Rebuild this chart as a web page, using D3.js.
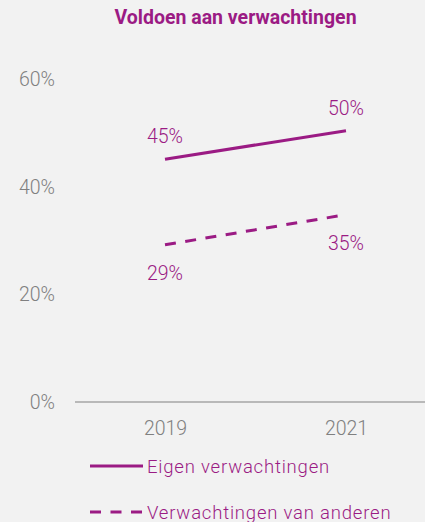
<!DOCTYPE html>
<html lang="nl">
<head>
<meta charset="utf-8">
<title>Voldoen aan verwachtingen</title>
<script src="https://cdn.jsdelivr.net/npm/d3@7"></script>
<style>
  body { margin: 0; background: #f2f2f2; }
  svg { display: block; font-family: Roboto, sans-serif; }
  .tick-label { fill: #808080; font-size: 19.5px; font-weight: 300; }
  .title { fill: #9b1b84; font-size: 19.5px; font-weight: bold; }
  .val { fill: #9b1b84; font-size: 19.5px; font-weight: 300; }
  .legend text { fill: #9b1b84; font-size: 18.5px; letter-spacing: 0.8px; font-weight: 300; }
</style>
</head>
<body>
<svg id="chart" width="425" height="522"></svg>
<script>
  var years = ["2019", "2021"];
  var eigen = [45.1, 50.4];
  var anderen = [29.2, 34.8];
  var yTicks = [0, 20, 40, 60];
  var seriesNames = ["Eigen verwachtingen", "Verwachtingen van anderen"];

  var purple = "#9b1b84";
  var svg = d3.select("#chart");

  var x = d3.scalePoint().domain(years).range([165, 346]);
  var y = d3.scaleLinear().domain([0, 60]).range([402, 79]);
  var fmt = function(d) { return Math.round(d) + "%"; };

  svg.append("text").attr("class", "title")
      .attr("x", 235.5).attr("y", 24)
      .attr("text-anchor", "middle")
      .text("Voldoen aan verwachtingen");

  // y tick labels only
  svg.selectAll(".ylab").data(yTicks).enter().append("text")
      .attr("class", "tick-label")
      .attr("x", 55).attr("y", function(d) { return y(d) + 7; })
      .attr("text-anchor", "end")
      .text(function(d) { return d + "%"; });

  // x axis
  var xAxis = svg.append("g").attr("transform", "translate(0," + y(0) + ")")
      .call(d3.axisBottom(x).tickSize(0).tickPadding(18))
      .attr("font-family", null).attr("font-size", null);
  xAxis.select(".domain").remove();
  xAxis.append("line").attr("x1", 75).attr("x2", 425)
      .attr("stroke", "#a6a6a6").attr("stroke-width", 1.3);
  xAxis.selectAll(".tick text").attr("class", "tick-label")
      .attr("fill", null).attr("dy", null).attr("y", 33);

  var line = d3.line()
      .x(function(d, i) { return x(years[i]); })
      .y(function(d) { return y(d); });

  svg.append("path").datum(eigen)
      .attr("d", line).attr("fill", "none")
      .attr("stroke", purple).attr("stroke-width", 3);

  svg.append("path").datum(anderen)
      .attr("d", line).attr("fill", "none")
      .attr("stroke", purple).attr("stroke-width", 3)
      .attr("stroke-dasharray", "11,9.5");

  // value labels: above for eigen, below for anderen
  svg.selectAll(".ve").data(eigen).enter().append("text")
      .attr("class", "val").attr("text-anchor", "middle")
      .attr("x", function(d, i) { return x(years[i]); })
      .attr("y", function(d) { return y(d) - 16; })
      .text(fmt);

  svg.selectAll(".va").data(anderen).enter().append("text")
      .attr("class", "val").attr("text-anchor", "middle")
      .attr("x", function(d, i) { return x(years[i]); })
      .attr("y", function(d) { return y(d) + 35; })
      .text(fmt);

  // legend
  var legend = svg.append("g").attr("class", "legend");
  seriesNames.forEach(function(name, i) {
    var ly = 466 + i * 46;
    legend.append("line")
        .attr("x1", 90).attr("x2", 143).attr("y1", ly).attr("y2", ly)
        .attr("stroke", purple).attr("stroke-width", 3)
        .attr("stroke-dasharray", i === 1 ? "11,9.5" : null);
    legend.append("text").attr("x", 147).attr("y", ly + 6.5).text(name);
  });
</script>
</body>
</html>
